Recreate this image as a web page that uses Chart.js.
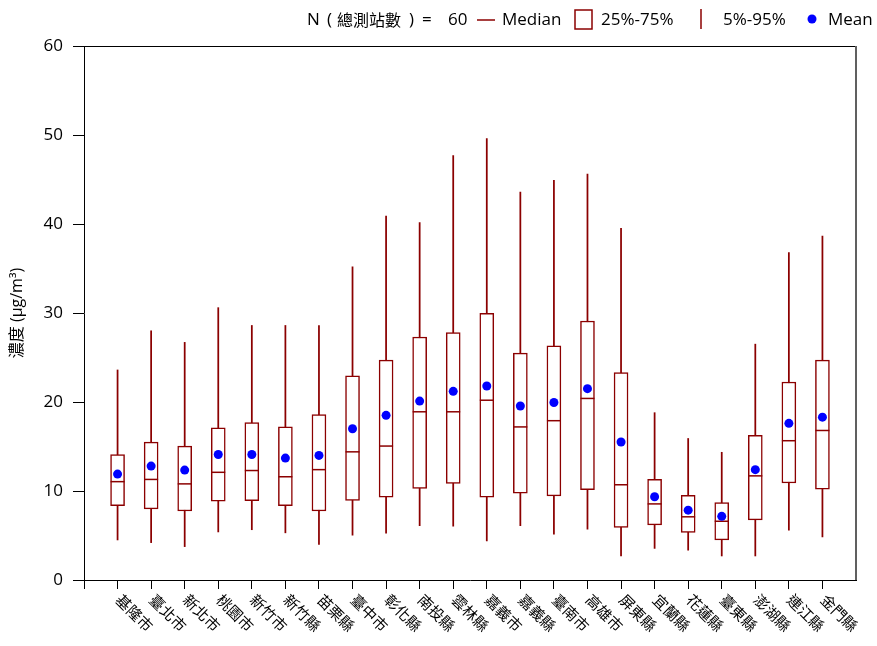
<!DOCTYPE html>
<html>
<head>
<meta charset="utf-8">
<script src="https://cdn.jsdelivr.net/npm/chart.js@4"></script>
<style>
  html, body { margin: 0; padding: 0; background: #fff; }
  #wrap { width: 877px; height: 646px; position: relative; }
</style>
</head>
<body>
<div id="wrap"><canvas id="grafico" width="877" height="646"></canvas></div>
<script>
// === DATI ===
const categorie = ['基隆市','臺北市','新北市','桃園市','新竹市','新竹縣','苗栗縣','臺中市','彰化縣','南投縣','雲林縣',
                   '嘉義市','嘉義縣','臺南市','高雄市','屏東縣','宜蘭縣','花蓮縣','臺東縣','澎湖縣','連江縣','金門縣'];
const p5      = [4.5, 4.2, 3.75, 5.4, 5.65, 5.3, 4.0, 5.05, 5.25, 6.1, 6.05, 4.4, 6.1, 5.15, 5.7, 2.7, 3.55, 3.35, 2.7, 2.7, 5.6, 4.85];
const q1      = [8.35, 8.0, 7.75, 8.85, 8.9, 8.35, 7.75, 8.95, 9.3, 10.3, 10.85, 9.3, 9.75, 9.45, 10.15, 5.9, 6.2, 5.35, 4.5, 6.75, 10.9, 10.2];
const mediana = [11.05, 11.3, 10.8, 12.1, 12.3, 11.6, 12.4, 14.4, 15.05, 18.9, 18.9, 20.2, 17.2, 17.9, 20.4, 10.7, 8.55, 7.1, 6.6, 11.7, 15.65, 16.8];
const q3      = [14.1, 15.5, 15.05, 17.1, 17.7, 17.2, 18.6, 22.95, 24.7, 27.3, 27.8, 29.95, 25.5, 26.3, 29.1, 23.3, 11.3, 9.5, 8.7, 16.25, 22.25, 24.7];
const p95     = [23.6, 28.0, 26.7, 30.6, 28.6, 28.6, 28.6, 35.2, 40.9, 40.15, 47.7, 49.6, 43.6, 44.9, 45.6, 39.5, 18.8, 15.9, 14.35, 26.5, 36.8, 38.65];
const media   = [11.9, 12.8, 12.35, 14.1, 14.1, 13.7, 14.0, 17.0, 18.5, 20.1, 21.2, 21.8, 19.55, 19.95, 21.5, 15.5, 9.35, 7.85, 7.15, 12.4, 17.6, 18.3];
const yTicks  = [0, 10, 20, 30, 40, 50, 60];
const totaleStazioni = 60;

const ROSSO = '#8B0000';
const BLU = '#0000FF';
const FONT = "'Open Sans', 'Noto Sans CJK TC', sans-serif";
const FONT_CJK = "'Noto Sans CJK TC', 'Open Sans', sans-serif";

// === PLUGIN: bordo, etichette ruotate, legenda ===
const extraPlugin = {
    id: 'extra',
    afterDraw(chart) {
        const ctx = chart.ctx;
        const a = chart.chartArea;
        const xs = chart.scales.x;
        ctx.save();
        // bordo superiore e destro
        ctx.strokeStyle = '#000';
        ctx.lineWidth = 1;
        ctx.beginPath();
        ctx.moveTo(a.left, a.top + 0.5);
        ctx.lineTo(a.right, a.top + 0.5);
        ctx.stroke();
        ctx.strokeStyle = '#606060';
        ctx.lineWidth = 2;
        ctx.beginPath();
        ctx.moveTo(a.right, a.top);
        ctx.lineTo(a.right, a.bottom);
        ctx.stroke();

        // etichette asse x ruotate di 45 gradi
        ctx.fillStyle = '#000';
        ctx.font = '15px ' + FONT_CJK;
        ctx.textAlign = 'left';
        ctx.textBaseline = 'middle';
        categorie.forEach((nome, i) => {
            const x = xs.getPixelForValue(i + 1);
            ctx.save();
            ctx.translate(x + 1, a.bottom + 17);
            ctx.rotate(Math.PI / 4);
            ctx.fillText(nome, 0, 0);
            ctx.restore();
        });

        // legenda
        const y = 20;
        ctx.font = '17px ' + FONT;
        ctx.fillStyle = '#000';
        ctx.fillText('N', 307, y);
        ctx.fillText('(', 327, y);
        ctx.font = '16px ' + FONT_CJK;
        ctx.fillText('總測站數', 337, y);
        ctx.font = '17px ' + FONT;
        ctx.fillText(')', 409, y);
        ctx.fillText('=', 422, y);
        ctx.fillText(String(totaleStazioni), 448, y);
        ctx.strokeStyle = ROSSO;
        ctx.lineWidth = 1.5;
        ctx.beginPath();
        ctx.moveTo(477, y);
        ctx.lineTo(495, y);
        ctx.stroke();
        ctx.fillText('Median', 502, y);
        ctx.strokeRect(575, 10, 17, 19);
        ctx.fillText('25%-75%', 601, y);
        ctx.beginPath();
        ctx.moveTo(701, 9);
        ctx.lineTo(701, 29);
        ctx.stroke();
        ctx.fillText('5%-95%', 723, y);
        ctx.fillStyle = BLU;
        ctx.beginPath();
        ctx.arc(812, 19, 4.5, 0, Math.PI * 2);
        ctx.fill();
        ctx.fillStyle = '#000';
        ctx.fillText('Mean', 828, y);
        ctx.restore();
    }
};

// === GRAFICO ===
const ctx = document.getElementById('grafico').getContext('2d');
const chart = new Chart(ctx, {
    type: 'bar',
    data: {
        datasets: [
            {
                label: '5%-95%',
                data: categorie.map((c, i) => ({ x: i + 1, y: [p5[i], p95[i]] })),
                backgroundColor: ROSSO,
                borderWidth: 0,
                barThickness: 1.1,
                grouped: false,
                order: 4
            },
            {
                label: '25%-75%',
                data: categorie.map((c, i) => ({ x: i + 1, y: [q1[i], q3[i]] })),
                backgroundColor: '#fff',
                borderColor: ROSSO,
                borderWidth: 1.5,
                borderSkipped: false,
                barThickness: 14,
                grouped: false,
                order: 3
            },
            {
                type: 'scatter',
                label: 'Median',
                data: categorie.map((c, i) => ({ x: i + 1, y: mediana[i] })),
                pointStyle: 'line',
                pointRadius: 7,
                borderColor: ROSSO,
                borderWidth: 1.5,
                order: 2
            },
            {
                type: 'scatter',
                label: 'Mean',
                data: categorie.map((c, i) => ({ x: i + 1, y: media[i] })),
                pointStyle: 'circle',
                pointRadius: 4.5,
                backgroundColor: BLU,
                borderWidth: 0,
                order: 1
            }
        ]
    },
    options: {
        responsive: false,
        animation: false,
        events: [],
        layout: { padding: { top: 46, right: 21, left: 0, bottom: 0 } },
        plugins: {
            legend: { display: false },
            tooltip: { enabled: false }
        },
        scales: {
            x: {
                type: 'linear',
                min: 0,
                max: 23,
                offset: false,
                afterBuildTicks: (axis) => {
                    axis.ticks = [{ value: 0 }].concat(categorie.map((c, i) => ({ value: i + 1 })));
                },
                afterFit: (axis) => { axis.height = 66; },
                ticks: { display: false },
                grid: { offset: false, drawOnChartArea: false, drawTicks: true, tickLength: 9, color: '#000' },
                border: { color: '#000', width: 1 }
            },
            y: {
                min: 0,
                max: 60,
                afterBuildTicks: (axis) => { axis.ticks = yTicks.map(v => ({ value: v })); },
                afterFit: (axis) => { axis.width = 84; },
                ticks: { color: '#000', font: { family: FONT, size: 17 }, padding: 10 },
                grid: { drawOnChartArea: false, drawTicks: true, tickLength: 11, color: '#000' },
                border: { color: '#000', width: 1 },
                title: {
                    display: true,
                    text: '濃度 (μg/m³)',
                    color: '#000',
                    font: { family: FONT, size: 16 },
                    padding: { top: 8, bottom: 0 }
                }
            }
        }
    },
    plugins: [extraPlugin]
});
</script>
</body>
</html>
